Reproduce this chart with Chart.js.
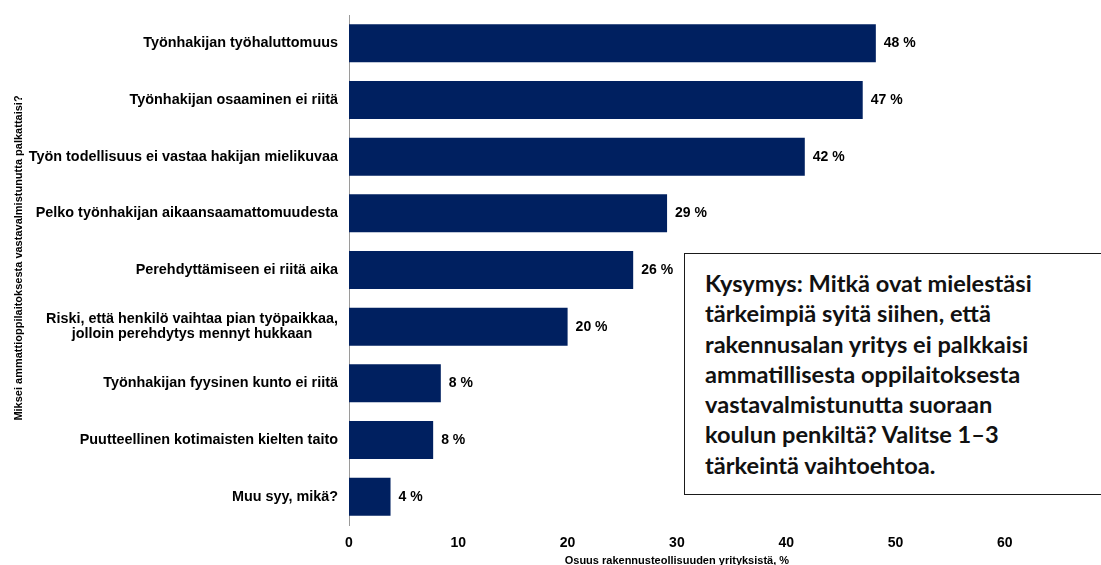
<!DOCTYPE html>
<html lang="fi">
<head>
<meta charset="utf-8">
<title>Miksei vastavalmistunutta palkattaisi</title>
<script src="https://cdn.jsdelivr.net/npm/chart.js@4.4.1/dist/chart.umd.min.js"></script>
<style>
  html, body { margin: 0; padding: 0; background: #fff; overflow: hidden; }
  #wrap { position: relative; width: 1101px; height: 565px; }
  #question {
    position: absolute;
    left: 684px; top: 253px;
    width: 440px; height: 242px;
    box-sizing: border-box;
    border: 1.5px solid #1a1a1a;
    background: #fff;
    padding: 14px 0 0 20px;
    font-family: Lato, "Open Sans", sans-serif;
    font-weight: 700;
    font-size: 23.6px;
    line-height: 30.3px;
    color: #111;
    white-space: nowrap;
  }
</style>
</head>
<body>
<div id="wrap">
  <canvas id="chart" width="1101" height="565"></canvas>
  <div id="question">Kysymys: Mitkä ovat mielestäsi<br>tärkeimpiä syitä siihen, että<br>rakennusalan yritys ei palkkaisi<br>ammatillisesta oppilaitoksesta<br>vastavalmistunutta suoraan<br>koulun penkiltä? Valitse 1–3<br>tärkeintä vaihtoehtoa.</div>
</div>
<script>
const categories = [
  "Työnhakijan työhaluttomuus",
  "Työnhakijan osaaminen ei riitä",
  "Työn todellisuus ei vastaa hakijan mielikuvaa",
  "Pelko työnhakijan aikaansaamattomuudesta",
  "Perehdyttämiseen ei riitä aika",
  ["Riski, että henkilö vaihtaa pian työpaikkaa,", "jolloin perehdytys mennyt hukkaan"],
  "Työnhakijan fyysinen kunto ei riitä",
  "Puutteellinen kotimaisten kielten taito",
  "Muu syy, mikä?",
];
const shares = [48.2, 47.0, 41.7, 29.1, 26.0, 20.0, 8.4, 7.7, 3.8];
const xTicks = [0, 10, 20, 30, 40, 50, 60];

const yTitle = "Miksei ammattioppilaitoksesta vastavalmistunutta palkattaisi?";
const xTitle = "Osuus rakennusteollisuuden yrityksistä, %";

const FONT = "'Liberation Sans', Arial, sans-serif";
const NAVY = "#002060";

// category names, value labels and axis titles
const textPlugin = {
  id: "chartText",
  afterDatasetsDraw(chart) {
    const { ctx, scales } = chart;
    const y = scales.y, x = scales.x;
    ctx.save();
    ctx.fillStyle = "#000";

    // category labels, right aligned; wrapped ones centred on each other
    ctx.font = "bold 14.4px " + FONT;
    ctx.textBaseline = "middle";
    const right = 338;
    categories.forEach((lab, i) => {
      const py = y.getPixelForValue(i);
      if (Array.isArray(lab)) {
        const w = Math.max(...lab.map((l) => ctx.measureText(l).width));
        const cx = right - w / 2;
        const lh = 15.5;
        ctx.textAlign = "center";
        lab.forEach((l, k) => {
          ctx.fillText(l, cx, py + (k - (lab.length - 1) / 2) * lh);
        });
      } else {
        ctx.textAlign = "right";
        ctx.fillText(lab, right, py);
      }
    });

    // value labels
    ctx.font = "bold 14px " + FONT;
    ctx.textAlign = "left";
    chart.getDatasetMeta(0).data.forEach((bar, i) => {
      ctx.fillText(Math.round(shares[i]) + " %", bar.x + 8, bar.y);
    });

    // x title centred under the ticks
    ctx.font = "bold 11px " + FONT;
    ctx.textAlign = "center";
    const mid = (x.getPixelForValue(xTicks[0]) + x.getPixelForValue(xTicks[xTicks.length - 1])) / 2;
    ctx.fillText(xTitle, mid, 561);

    // rotated y title
    ctx.translate(19, 258);
    ctx.rotate(-Math.PI / 2);
    ctx.fillText(yTitle, 0, 0);
    ctx.restore();
  },
};

new Chart(document.getElementById("chart"), {
  type: "bar",
  data: {
    labels: categories,
    datasets: [{
      data: shares,
      backgroundColor: NAVY,
      borderWidth: 0,
      barPercentage: 0.67,
      categoryPercentage: 1,
    }],
  },
  options: {
    indexAxis: "y",
    responsive: false,
    animation: false,
    layout: { padding: { top: 15, right: 0, left: 0, bottom: 0 } },
    scales: {
      x: {
        min: 0,
        max: 68.8,
        grid: { display: false, drawTicks: false },
        border: { display: false },
        afterBuildTicks(scale) {
          scale.ticks = xTicks.map((v) => ({ value: v }));
        },
        afterFit(scale) { scale.height = 40; },
        ticks: {
          padding: 10,
          color: "#000",
          font: { family: FONT, size: 14, weight: "bold" },
        },
      },
      y: {
        grid: { display: false, drawTicks: false },
        border: { display: true, color: "#9a9a9a", width: 1 },
        ticks: { display: false },
        afterFit(scale) { scale.width = 349; },
      },
    },
    plugins: {
      legend: { display: false },
      tooltip: { enabled: false },
    },
  },
  plugins: [textPlugin],
});
</script>
</body>
</html>
